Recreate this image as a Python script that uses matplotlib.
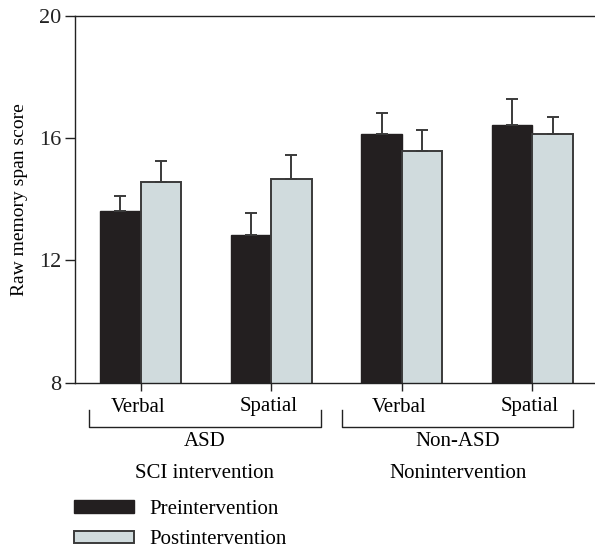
import matplotlib

matplotlib.use("Agg")
import matplotlib.pyplot as plt
import numpy as np
from matplotlib.transforms import blended_transform_factory

# values
conditions = ["Verbal", "Spatial", "Verbal", "Spatial"]
groups = ["ASD", "Non-ASD"]
group_notes = ["SCI intervention", "Nonintervention"]
pre_mean = [13.62, 12.84, 16.15, 16.44]
pre_err = [0.50, 0.71, 0.68, 0.85]
post_mean = [14.56, 14.67, 15.57, 16.13]
post_err = [0.70, 0.79, 0.69, 0.58]
series_names = ["Preintervention", "Postintervention"]
y_ticks = [8, 12, 16, 20]

W, H = 595, 549
plt.rcParams["font.family"] = ["Liberation Serif", "DejaVu Serif"]
fig = plt.figure(figsize=(W / 100, H / 100), dpi=100)
ax = fig.add_axes([75 / W, 1 - 382.7 / H, (595 - 75) / W, (382.7 - 16) / H])

x = np.arange(len(conditions))
width = 0.31
dark = "#231f20"
light = "#d0dbdd"
edge = "#3a3a3a"
fs = 15
err_kw = dict(ecolor="#3a3a3a", elinewidth=1.4, capsize=4.5, capthick=1.4)

b1 = ax.bar(x - width / 2, pre_mean, width, color=dark, edgecolor=dark,
            linewidth=1.0, yerr=[np.zeros(4), pre_err], error_kw=err_kw, zorder=2)
b2 = ax.bar(x + width / 2, post_mean, width, color=light, edgecolor=edge,
            linewidth=1.4, yerr=[np.zeros(4), post_err], error_kw=err_kw, zorder=2)

ax.set_ylim(8, 20)
ax.set_xlim(-0.503, 3.48)
ax.set_yticks(y_ticks)
ax.set_xticks(x)
ax.set_xticklabels([])
ax.tick_params(axis="y", direction="out", length=7, width=1, colors="#222222",
               labelsize=16, pad=3)
ax.tick_params(axis="x", direction="out", length=6, width=1, colors="#222222")
for s in ["left", "top", "bottom"]:
    ax.spines[s].set_color("#222222")
    ax.spines[s].set_linewidth(1.0)
ax.spines["right"].set_visible(False)
ax.set_ylabel("Raw memory span score", fontsize=14, labelpad=8)

# labels and brackets below the axis
tr = blended_transform_factory(ax.transData, fig.transFigure)


def fy(px):
    return 1 - px / H


for xi, name in zip(x, conditions):
    ax.text(xi - 0.02, fy(407), name, transform=tr, ha="center", va="center", fontsize=fs)

bracket_x = [(-0.394, 1.379), (1.543, 3.315)]
for (x0, x1), g, note in zip(bracket_x, groups, group_notes):
    ax.plot([x0, x0, x1, x1], [fy(410), fy(426.7), fy(426.7), fy(410)],
            transform=tr, color="#222222", lw=1.0, clip_on=False)
    xc = (x0 + x1) / 2
    ax.text(xc, fy(442), g, transform=tr, ha="center", va="center", fontsize=fs)
    ax.text(xc, fy(473), note, transform=tr, ha="center", va="center", fontsize=fs)

leg = fig.legend([b1, b2], series_names, loc="upper left",
                 bbox_to_anchor=(74 / W, fy(500)), frameon=False, fontsize=fs,
                 handlelength=2.9, handleheight=0.55, handletextpad=0.7,
                 labelspacing=0.55, borderpad=0, borderaxespad=0)

fig.savefig("out.png", dpi=100)
